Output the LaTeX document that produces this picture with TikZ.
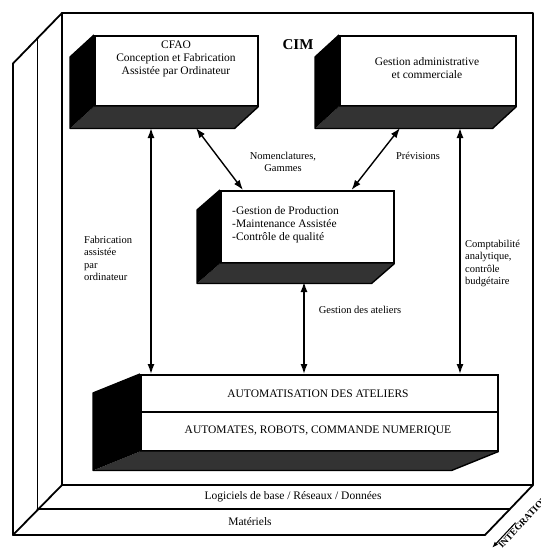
\documentclass[tikz,border=0pt]{standalone}
\usepackage{fontspec}
\setmainfont{Liberation Serif}
\usetikzlibrary{arrows.meta,calc}
\newcommand{\boxshade}[3]{%
  \fill[black!80] (#1.south west) -- (#1.south east) -- ($(#1.south east)+(#2,#3)$) -- ($(#1.south west)+(#2,#3)$) -- cycle;
  \fill[black] (#1.north west) -- ($(#1.north west)+(#2,#3)$) -- ($(#1.south west)+(#2,#3)$) -- (#1.south west) -- cycle;
  \draw[line width=1.4pt, line join=round] (#1.north west) -- ($(#1.north west)+(#2,#3)$) -- ($(#1.south west)+(#2,#3)$) -- ($(#1.south east)+(#2,#3)$) -- (#1.south east);
}
\begin{document}
\begin{tikzpicture}[x=1pt,y=-1pt,
  frame/.style={line width=1.8pt, line cap=round, line join=round},
  face/.style={draw, line width=1.5pt, fill=white, rectangle, inner sep=0pt},
  dbl/.style={{Latex[length=10pt,width=7pt]}-{Latex[length=10pt,width=7pt]}, line width=1.4pt},
  boxtxt/.style={font=\fontsize{11.5}{13}\selectfont, align=center, inner sep=0pt},
  lbl/.style={font=\fontsize{10.5}{12.3}\selectfont, align=left, inner sep=0pt},
  floortxt/.style={font=\fontsize{11.5}{13}\selectfont, inner sep=0pt}
]
\useasboundingbox (0,0) rectangle (541,552);
\fill[white] (0,0) rectangle (541,552);

% ---- frame (panels and floor)
\draw[frame] (62,13) rectangle (533,485);
\draw[frame] (37.5,509) -- (37.5,38.5);
\draw[frame] (13,535) -- (13,63.5) -- (62,13);
\draw[frame] (62,485) -- (13,535) -- (485,535) -- (533,485);
\draw[frame] (37.5,509) -- (510,509);
\node[floortxt] (logi) at (293,497) {Logiciels de base / Réseaux / Données};
\node[floortxt] (mat) at (250,522) {Matériels};

% ---- CIM title
\node[font=\bfseries\fontsize{15}{15}\selectfont, inner sep=0pt] (cim) at (298,45) {CIM};

% ---- CFAO box
\node[face, minimum width=163pt, minimum height=70pt, anchor=north west] (cfao) at (94,35) {};
\boxshade{cfao}{-24}{22}
\node[boxtxt] (cfaotxt) at (176,59) {CFAO\\Conception et Fabrication\\Assistée par Ordinateur};

% ---- Gestion administrative box
\node[face, minimum width=176pt, minimum height=70pt, anchor=north west] (gest) at (339,35) {};
\boxshade{gest}{-24}{22}
\node[boxtxt] (gesttxt) at (427,68) {Gestion administrative\\et commerciale};

% ---- Production box
\node[face, minimum width=173pt, minimum height=72pt, anchor=north west] (prod) at (220,190) {};
\boxshade{prod}{-23}{20}
\node[boxtxt, align=left, anchor=north west] (prodtxt) at (232,206) {-Gestion de Production\\-Maintenance Assistée\\-Contrôle de qualité};

% ---- Automatisation box
\node[face, minimum width=357pt, minimum height=76pt, anchor=north west] (auto) at (140,374) {};
\boxshade{auto}{-47}{19}
\draw[line width=1.3pt] ($(auto.north west)+(0,38)$) -- ($(auto.north east)+(0,38)$);
\node[boxtxt] (auto1) at (318,394) {AUTOMATISATION DES ATELIERS};
\node[boxtxt] (auto2) at (318,431) {AUTOMATES, ROBOTS, COMMANDE NUMERIQUE};

% ---- connectors
\coordinate (la) at (151,128);
\coordinate (ra) at (460,128);
\coordinate (na) at (196,128);
\coordinate (pa) at (400,128);
\coordinate (ma) at (304,282);
\draw[dbl] (la) -- (la |- auto.north);
\draw[dbl] (ra) -- (ra |- auto.north);
\draw[dbl] (na) -- ($(prod.north west)+(23,0)$);
\draw[dbl] (pa) -- ($(prod.north east)+(-43,0)$);
\draw[dbl] (ma) -- (ma |- auto.north);

% ---- labels
\node[lbl, align=center] (nom) at (283,162) {Nomenclatures,\\Gammes};
\node[lbl] (prev) at (418,156) {Prévisions};
\node[lbl, anchor=north west] (fab) at (84,236) {Fabrication\\assistée\\par\\ordinateur};
\node[lbl, anchor=north west] (compt) at (465,240) {Comptabilité\\analytique,\\contrôle\\budgétaire};
\node[lbl] (gat) at (360,310) {Gestion des ateliers};

% ---- INTEGRATION
\node[rotate=47, anchor=base west, font=\bfseries\fontsize{9.5}{10}\selectfont, inner sep=1.5pt] (integ) at (501,550) {INTEGRATION};
\draw[-{Latex[length=6pt,width=4.5pt]}, line width=1.1pt] ($(integ.north west)!0.42!(integ.north east)$) -- ($(integ.north west)!-0.06!(integ.north east)$);
\end{tikzpicture}
\end{document}
